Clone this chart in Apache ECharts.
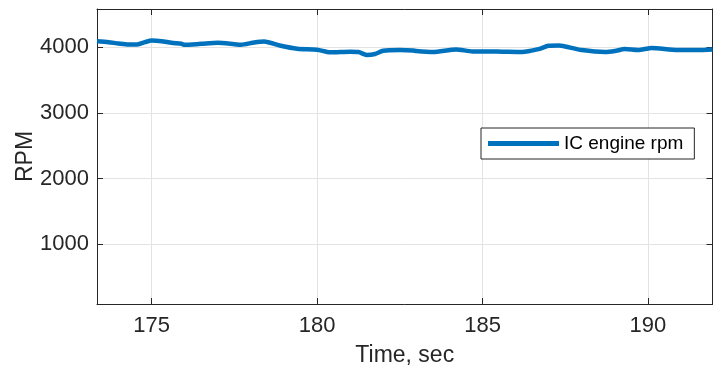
<!DOCTYPE html>
<html>
<head>
<meta charset="utf-8">
<script src="https://cdn.jsdelivr.net/npm/echarts@6/dist/echarts.min.js"></script>
<style>html,body{margin:0;padding:0;background:#fff}#c{width:713px;height:374px}</style>
</head>
<body>
<div id="c"></div>
<script>
var timeSec = [173.35,173.7,174.0,174.3,174.6,174.8,175.0,175.3,175.6,175.9,176.0,176.5,177.0,177.5,177.7,178.1,178.4,178.9,179.4,180.0,180.4,181.0,181.25,181.5,181.75,182.0,182.5,182.9,183.0,183.5,184.2,184.7,185.0,185.6,186.2,186.7,187.0,187.3,187.5,188.0,188.7,189.0,189.3,189.7,190.0,190.1,190.9,191.5,191.95];
var engineRpm = [4090,4075,4055,4040,4045,4075,4100,4090,4065,4050,4035,4050,4065,4045,4035,4070,4085,4020,3975,3960,3920,3930,3925,3880,3895,3945,3955,3950,3940,3925,3965,3935,3935,3930,3925,3970,4020,4025,4010,3955,3925,3940,3970,3955,3980,3985,3955,3955,3965];
var seriesName = 'IC engine rpm';
var xLabel = 'Time, sec';
var yLabel = 'RPM';
var xRange = [173.35, 191.95];
var yRange = [90, 4580];

var data = timeSec.map(function(t, i){ return [t, engineRpm[i]]; });
var axisColor = '#262626';
var font = 'Liberation Sans, Arial, Helvetica, sans-serif';
var chart = echarts.init(document.getElementById('c'), null, {renderer:'canvas'});
var common = {
  axisLine:{show:true, onZero:false, lineStyle:{color:axisColor, width:1}},
  axisTick:{show:true, inside:true, length:6, lineStyle:{color:axisColor}},
};
function plain(v){ return String(Math.round(v)); }
chart.setOption({
  animation:false,
  backgroundColor:'#fff',
  grid:{left:97, right:0.5, top:9, bottom:70, containLabel:false, outerBoundsMode:'none'},
  legend:{
    left:481, top:128, padding:[6,11,6,7], itemGap:0,
    borderColor:'#262626', borderWidth:1, backgroundColor:'#fff',
    itemWidth:71, itemHeight:5, icon:'rect',
    textStyle:{fontFamily:font, fontSize:19, color:'#000', padding:[0,0,0,0]},
    data:[seriesName]
  },
  xAxis:[{
    type:'value', min:xRange[0], max:xRange[1], splitNumber:4, minInterval:5, maxInterval:5,
    position:'bottom',
    axisLine:common.axisLine, axisTick:common.axisTick,
    axisLabel:{showMinLabel:false, showMaxLabel:false, formatter:plain, fontFamily:font, fontSize:22, color:axisColor, margin:11},
    splitLine:{show:true, lineStyle:{color:'#e3e3e3', width:1}},
    name:xLabel, nameLocation:'middle', nameGap:40, nameMoveOverlap:false,
    nameTextStyle:{fontFamily:font, fontSize:23, color:axisColor}
  },{
    type:'value', min:xRange[0], max:xRange[1], splitNumber:4, minInterval:5, maxInterval:5,
    position:'top',
    axisLine:common.axisLine, axisTick:common.axisTick,
    axisLabel:{show:false}, splitLine:{show:false}
  }],
  yAxis:[{
    type:'value', min:yRange[0], max:yRange[1], splitNumber:5, minInterval:1000, maxInterval:1000,
    position:'left',
    axisLine:common.axisLine, axisTick:common.axisTick,
    axisLabel:{showMinLabel:false, showMaxLabel:false, formatter:plain, fontFamily:font, fontSize:22, color:axisColor, margin:8},
    splitLine:{show:true, lineStyle:{color:'#e3e3e3', width:1}},
    name:yLabel, nameLocation:'middle', nameGap:60, nameRotate:90, nameMoveOverlap:false,
    nameTextStyle:{fontFamily:font, fontSize:23, color:axisColor}
  },{
    type:'value', min:yRange[0], max:yRange[1], splitNumber:5, minInterval:1000, maxInterval:1000,
    position:'right',
    axisLine:common.axisLine, axisTick:common.axisTick,
    axisLabel:{show:false}, splitLine:{show:false}
  }],
  series:[{
    name:seriesName, type:'line', data:data, xAxisIndex:0, yAxisIndex:0,
    showSymbol:false, smooth:0.25,
    lineStyle:{color:'#0072BD', width:4.5},
    itemStyle:{color:'#0072BD'}
  }]
});
</script>
</body>
</html>
